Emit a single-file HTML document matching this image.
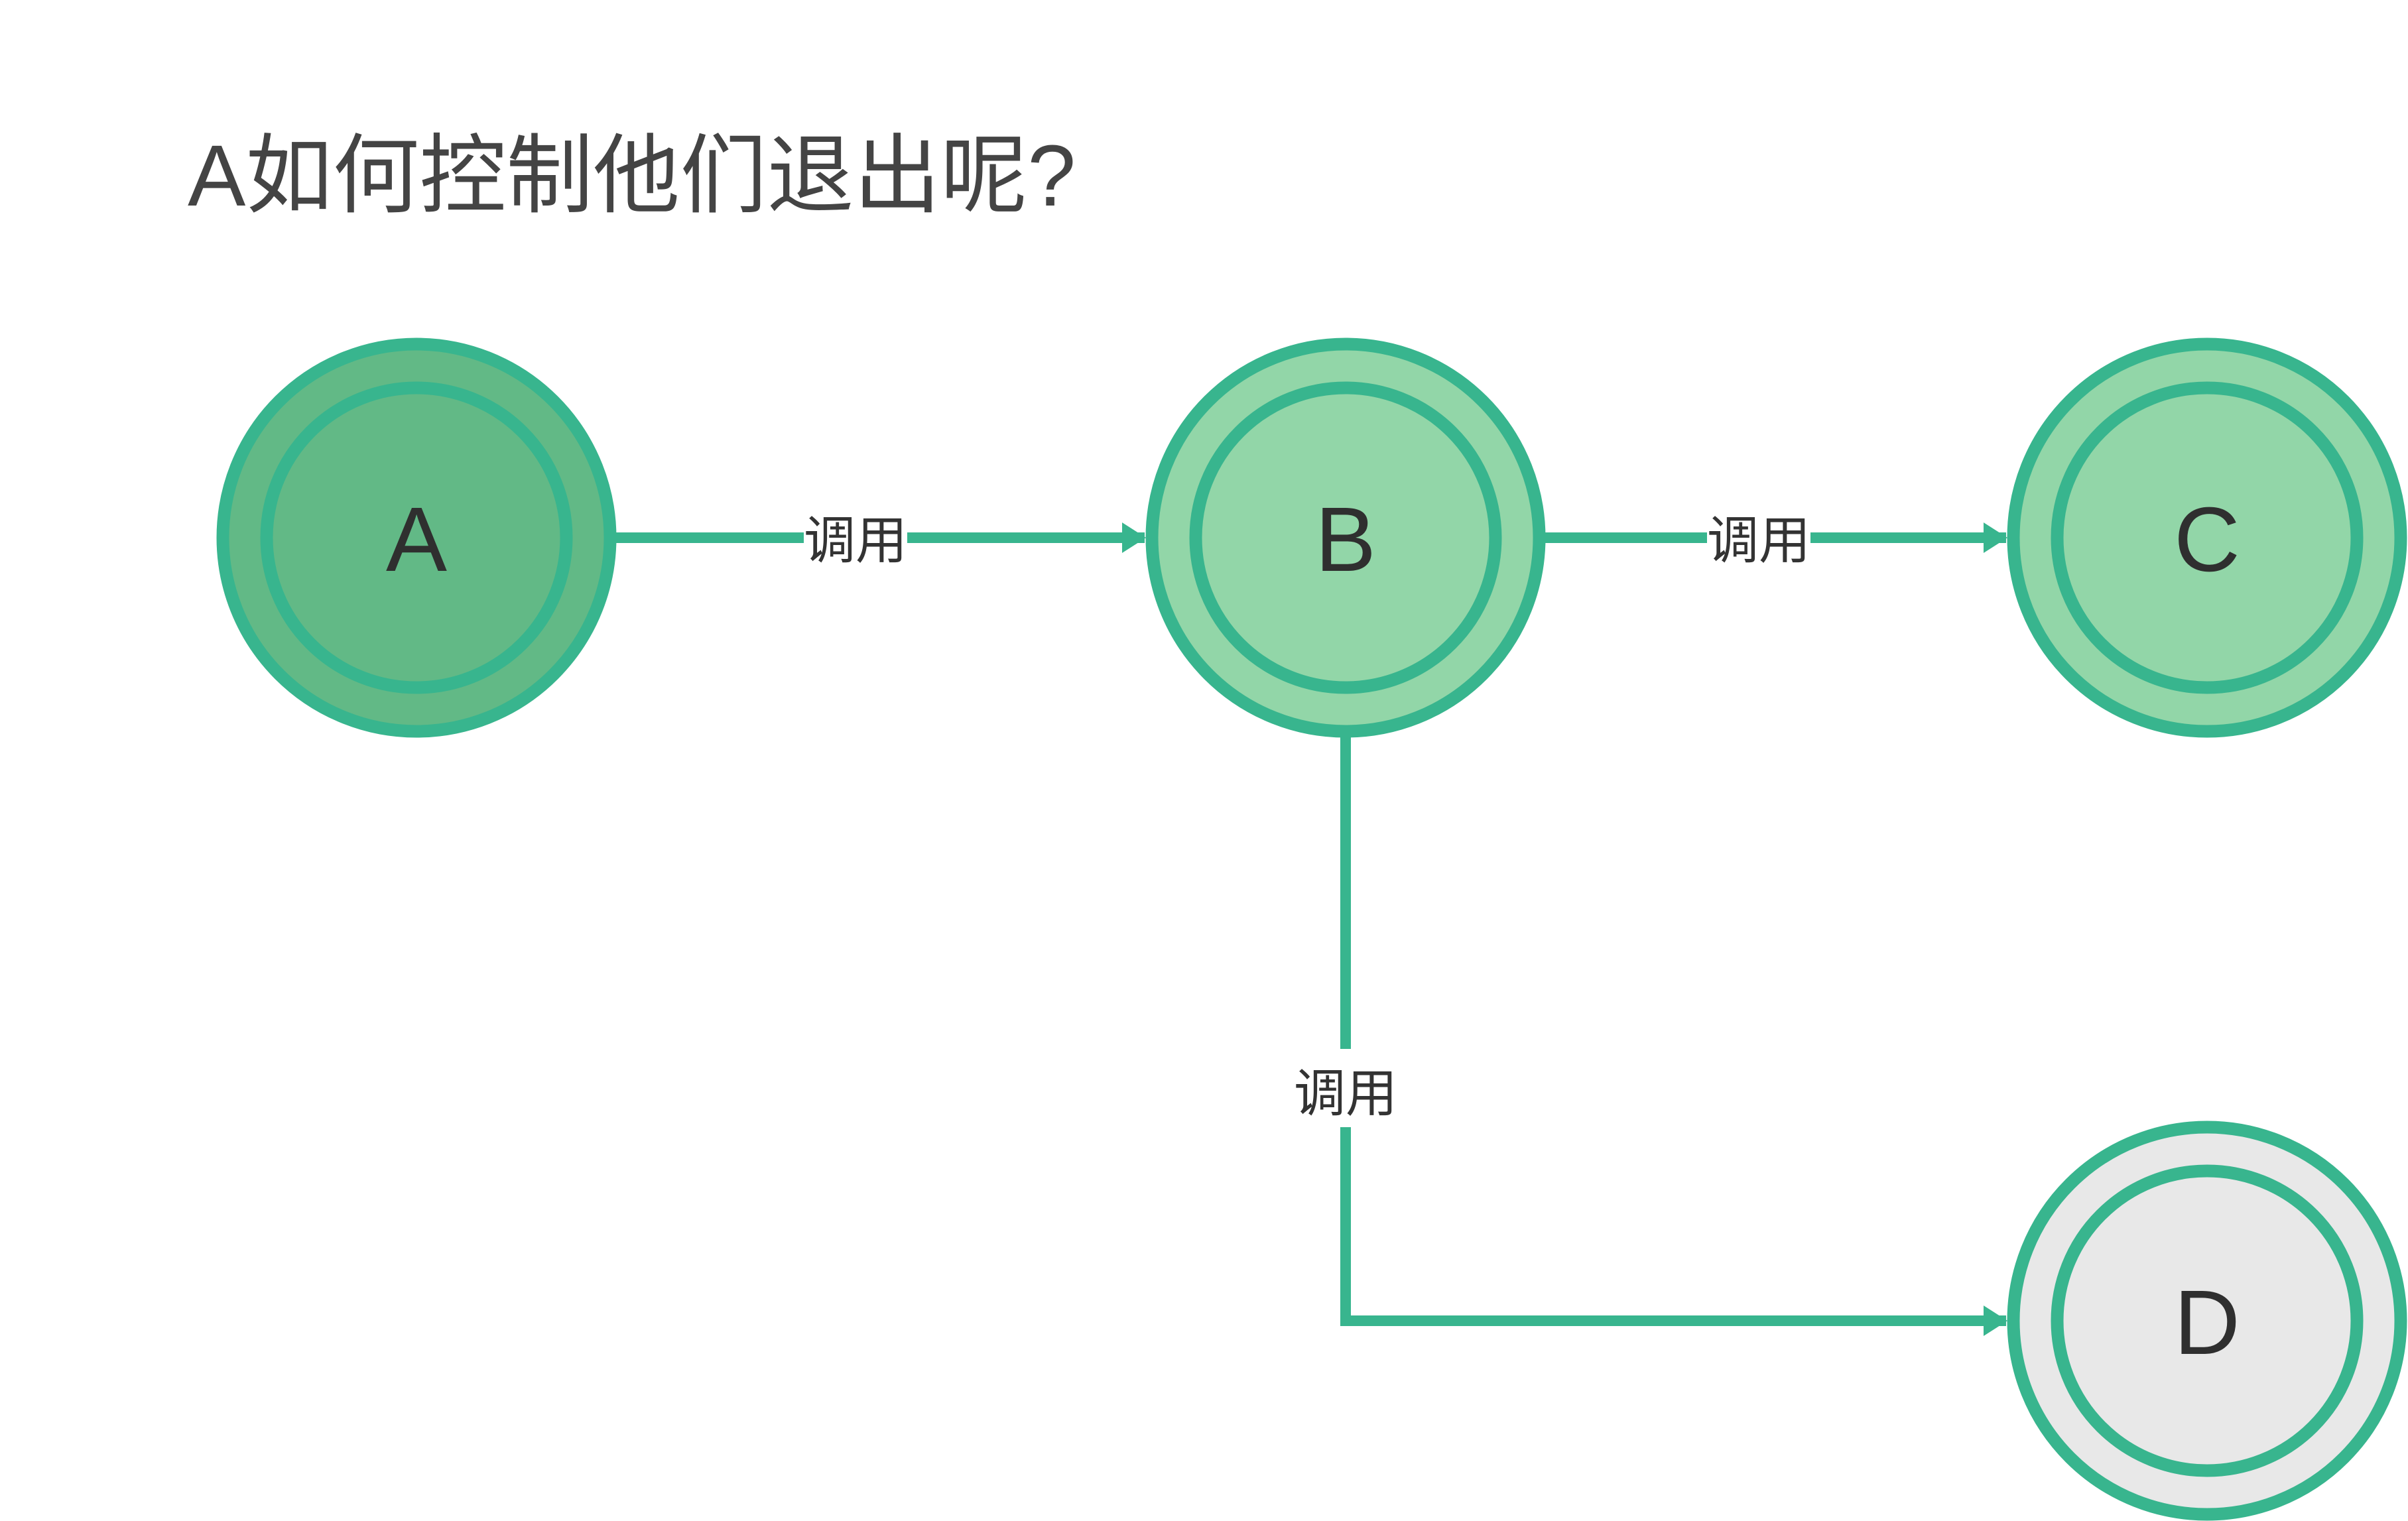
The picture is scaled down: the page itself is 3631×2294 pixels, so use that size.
<!DOCTYPE html>
<html><head><meta charset="utf-8"><style>
html,body{margin:0;padding:0;background:#fff;}
svg{display:block}
</style></head><body>
<svg width="3631" height="2294" viewBox="0 0 3631 2294" xmlns="http://www.w3.org/2000/svg">
<defs>
<marker id="ar" markerWidth="36" markerHeight="46" refX="34" refY="23" markerUnits="userSpaceOnUse" orient="auto">
<path d="M0,0 L36,23 L0,46 Z" fill="#38b58e"/>
</marker>
</defs>
<text x="283" y="310" font-family="'Liberation Sans','Noto Sans CJK SC',sans-serif" font-size="131" fill="#444">A如何控制他们退出呢?</text>
<g stroke="#38b58e" stroke-width="16" fill="none">
<line x1="928" y1="811" x2="1726" y2="811" marker-end="url(#ar)"/>
<line x1="2330" y1="811" x2="3025" y2="811" marker-end="url(#ar)"/>
<polyline points="2029,1112 2029,1992 3025,1992" marker-end="url(#ar)"/>
</g>
<g font-family="'Liberation Sans','Noto Sans CJK SC',sans-serif" font-size="78" fill="#333" text-anchor="middle">
<rect x="1212" y="765" width="156" height="92" fill="#fff"/>
<text x="1290" y="842">调用</text>
<rect x="2574" y="765" width="156" height="92" fill="#fff"/>
<text x="2652" y="842">调用</text>
<rect x="1940" y="1582" width="180" height="118" fill="#fff"/>
<text x="2029" y="1676">调用</text>
</g>
<g stroke="#38b58e" stroke-width="19">
<circle cx="628" cy="811" r="292" fill="#62b986"/>
<circle cx="628" cy="811" r="226" fill="#62b986"/>
<circle cx="2029" cy="811" r="292" fill="#92d6a8"/>
<circle cx="2029" cy="811" r="226" fill="#92d6a8"/>
<circle cx="3328" cy="811" r="292" fill="#92d6a8"/>
<circle cx="3328" cy="811" r="226" fill="#92d6a8"/>
<circle cx="3328" cy="1992" r="292" fill="#e8e8e8"/>
<circle cx="3328" cy="1992" r="226" fill="#e8e8e8"/>
</g>
<g font-family="'Liberation Sans',sans-serif" font-size="138" fill="#2f2f2f" text-anchor="middle">
<text x="628" y="861">A</text>
<text x="2029" y="861">B</text>
<text x="3328" y="861">C</text>
<text x="3328" y="2042">D</text>
</g>
</svg>
</body></html>
